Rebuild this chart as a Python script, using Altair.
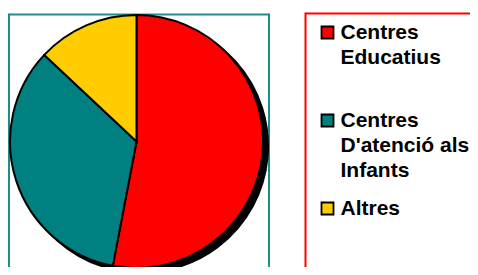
import altair as alt
import pandas as pd

categories = ["Centres Educatius", "Centres D'atenció als Infants", "Altres"]
values = [53, 34, 13]
legend_labels = ["Centres\nEducatius", "Centres\nD'atenció als\nInfants", "Altres"]
colors = ["#ff0000", "#008080", "#ffcc00"]

df = pd.DataFrame({
    "cat": categories,
    "value": values,
    "idx": list(range(len(categories))),
    "label": legend_labels,
})

color_scale = alt.Scale(domain=categories, range=colors)
base = alt.Chart(df)
one = alt.Chart(pd.DataFrame({"k": [0]}))

R = 126.5
CX, CY = 128.5, 133.5

shadow = base.mark_arc(radius=R, color="black", stroke="black", strokeWidth=2).encode(
    theta=alt.Theta("value:Q", stack=True),
    order=alt.Order("idx:Q"),
    x=alt.value(CX + 5),
    y=alt.value(CY + 4.5),
)

pie = base.mark_arc(radius=R, stroke="black", strokeWidth=2).encode(
    theta=alt.Theta("value:Q", stack=True),
    order=alt.Order("idx:Q"),
    color=alt.Color("cat:N", scale=color_scale, legend=None),
    x=alt.value(CX),
    y=alt.value(CY),
)

teal = "#1f8c8c"
red = "#ff0000"
borders = [
    one.mark_rule(color=teal, strokeWidth=2).encode(x=alt.value(1), x2=alt.value(261), y=alt.value(6.5)),
    one.mark_rule(color=teal, strokeWidth=2).encode(x=alt.value(1), y=alt.value(5.5), y2=alt.value(280)),
    one.mark_rule(color=teal, strokeWidth=2).encode(x=alt.value(261), y=alt.value(5.5), y2=alt.value(280)),
    one.mark_rule(color=red, strokeWidth=2).encode(x=alt.value(297.5), x2=alt.value(480), y=alt.value(5.5)),
    one.mark_rule(color=red, strokeWidth=2).encode(x=alt.value(297.5), y=alt.value(4.5), y2=alt.value(280)),
]

yscale = alt.Scale(domain=[0, 2], range=[31, 207])

squares = base.mark_square(size=144, stroke="black", strokeWidth=1.8, opacity=1, yOffset=-6.5).encode(
    x=alt.value(319.5),
    y=alt.Y("idx:Q", scale=yscale, axis=None),
    color=alt.Color("cat:N", scale=color_scale, legend=None),
)

texts = base.mark_text(
    align="left", baseline="alphabetic", lineBreak="\n", lineHeight=25,
    font="Liberation Sans", fontSize=21, fontWeight="bold", color="black",
).encode(
    x=alt.value(332.5),
    y=alt.Y("idx:Q", scale=yscale, axis=None),
    text="label:N",
)

chart = alt.layer(*borders, shadow, pie, squares, texts).properties(
    width=462, height=259,
    autosize=alt.AutoSizeParams(type="none"),
    padding=0,
    background="white",
).configure_view(stroke=None)

chart.save("out.html", embed_options={"renderer": "svg", "actions": False})
